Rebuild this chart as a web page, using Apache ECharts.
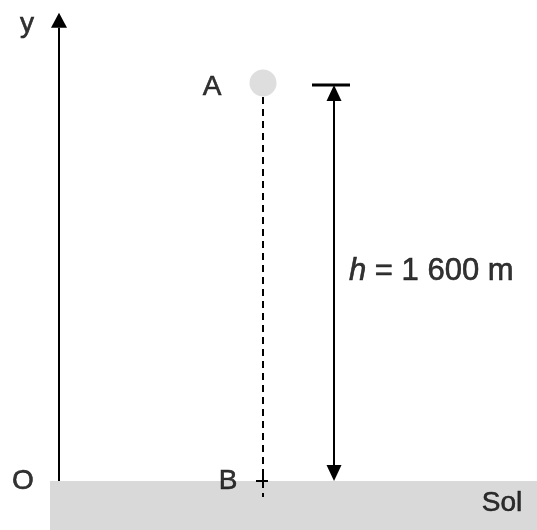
<!DOCTYPE html>
<html>
<head>
<meta charset="utf-8">
<script src="https://cdn.jsdelivr.net/npm/echarts@6/dist/echarts.min.js"></script>
<style>
  html, body { margin: 0; padding: 0; background: #fff; }
  #chart { width: 537px; height: 530px; }
</style>
</head>
<body>
<div id="chart"></div>
<script>
  // horizontal positions are in drawing units, heights in metres
  const heightValue = 1600
  const heightLabel = '1 600 m'
  const pointNames = ['O', 'A', 'B']
  const pointX = [59, 263, 263]
  const pointY = [0, heightValue, 0]
  const groundX = [50, 537]
  const groundY = [-198, 0]

  // segments: x1, y1, x2, y2, head at start, head at end
  const axisSegs = [[59, 0, 59, 1891, 0, 1]]
  const dimSegs = [[334, heightValue, 334, 0, 1, 1]]
  const tickSegs = [[312, heightValue, 350, heightValue, 0, 0]]
  const crossSegs = [[256, 0, 268, 0, 0, 0], [263, 24, 263, -24, 0, 0]]
  const dropSegs = [[263, 1551, 263, -65, 0, 0]]

  // text anchors
  const labelNames = ['y', 'A', 'O', 'B', 'Sol']
  const labelX = [27, 212, 23, 228, 502]
  const labelY = [1846, 1592, 0, 0, -89]

  const font = 'Liberation Sans, Arial, sans-serif'

  function arrowSeries(rows, lineWidth, headW, headL, dash) {
    return {
      type: 'custom',
      data: rows,
      silent: true,
      renderItem: function (params, api) {
        const a = api.coord([api.value(0), api.value(1)])
        const b = api.coord([api.value(2), api.value(3)])
        const dx = b[0] - a[0], dy = b[1] - a[1]
        const len = Math.sqrt(dx * dx + dy * dy)
        const ux = dx / len, uy = dy / len
        const nx = -uy, ny = ux
        let p1 = a.slice(), p2 = b.slice()
        const children = []
        function head(tip, sx, sy) {
          const bx = tip[0] - sx * headL, by = tip[1] - sy * headL
          children.push({
            type: 'polygon',
            shape: { points: [tip, [bx + nx * headW / 2, by + ny * headW / 2], [bx - nx * headW / 2, by - ny * headW / 2]] },
            style: { fill: '#000' }
          })
          return [bx, by]
        }
        if (api.value(4)) p1 = head(a, -ux, -uy)
        if (api.value(5)) p2 = head(b, ux, uy)
        children.unshift({
          type: 'line',
          shape: { x1: p1[0], y1: p1[1], x2: p2[0], y2: p2[1] },
          style: { stroke: '#000', lineWidth: lineWidth, lineDash: dash || null }
        })
        return { type: 'group', children: children }
      }
    }
  }

  const chart = echarts.init(document.getElementById('chart'))
  chart.setOption({
    animation: false,
    backgroundColor: '#fff',
    grid: { left: 0, right: 0, top: 0, bottom: 0 },
    xAxis: { type: 'value', min: 0, max: 537, show: false },
    yAxis: { type: 'value', min: -198, max: 1943, show: false },
    series: [
      {
        // sol
        type: 'custom',
        data: [[groundX[0], groundY[0], groundX[1], groundY[1]]],
        silent: true,
        renderItem: function (params, api) {
          const p0 = api.coord([api.value(0), api.value(3)])
          const p1 = api.coord([api.value(2), api.value(1)])
          return {
            type: 'rect',
            shape: { x: p0[0], y: p0[1], width: p1[0] - p0[0], height: p1[1] - p0[1] },
            style: { fill: '#d9d9d9' }
          }
        }
      },
      arrowSeries(axisSegs, 2, 16, 15),
      arrowSeries(dropSegs, 2, 0, 0, [7, 5]),
      arrowSeries(dimSegs, 2, 15, 16),
      arrowSeries(tickSegs, 3, 0, 0),
      arrowSeries(crossSegs, 2, 0, 0),
      {
        // ball A
        type: 'scatter',
        symbolSize: 27,
        itemStyle: { color: '#d6d6d6' },
        silent: true,
        data: [[pointX[1], pointY[1] + 8]]
      },
      {
        type: 'scatter',
        symbolSize: 0,
        silent: true,
        label: {
          show: true,
          position: 'inside',
          color: '#000',
          textBorderColor: '#000',
          textBorderWidth: 0.6,
          fontSize: 28,
          fontFamily: font,
          formatter: p => p.data[2]
        },
        data: labelNames.map((n, i) => [labelX[i], labelY[i], n])
      },
      {
        type: 'scatter',
        symbolSize: 0,
        silent: true,
        label: {
          show: true,
          position: 'right',
          distance: 0,
          color: '#000',
          textBorderColor: '#000',
          textBorderWidth: 0.6,
          fontSize: 31,
          fontFamily: font,
          formatter: '{i|h} = ' + heightLabel,
          rich: { i: { fontStyle: 'italic', fontSize: 31, fontFamily: font, color: '#000', textBorderColor: '#000', textBorderWidth: 0.6 } }
        },
        data: [[349, 845]]
      }
    ]
  })
</script>
</body>
</html>
